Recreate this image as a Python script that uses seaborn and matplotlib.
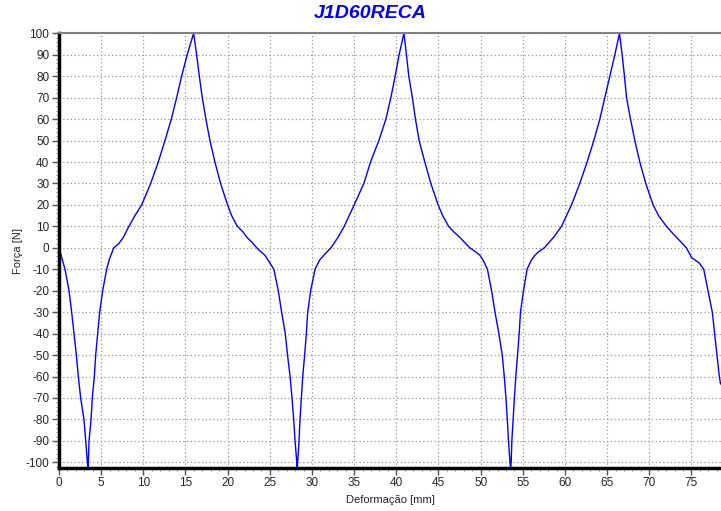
import matplotlib
matplotlib.use("Agg")
import matplotlib.pyplot as plt
from matplotlib.ticker import MultipleLocator
import seaborn as sns
import pandas as pd

# Deformation [mm] and force [N] readings of the cyclic test
deformacao = [
    0.0, 0.71, 1.19, 1.5, 1.78, 2.06, 2.29, 2.57, 2.96, 3.16, 3.36, 3.42, 3.48,
    3.56, 3.8, 3.95, 4.19, 4.35, 4.58, 4.82, 5.18, 5.65, 6.0, 6.5, 7.1, 7.65,
    8.15, 9.0, 9.8, 10.87, 11.77, 12.56, 13.32, 13.95, 14.54, 15.2, 15.96,
    16.32, 16.64, 16.99, 17.42, 17.9, 18.49, 19.16, 19.99, 20.47, 21.15, 21.8,
    22.25, 22.9, 23.45,
    23.95, 24.4, 24.8, 25.48, 26.0, 26.4, 26.83, 27.1, 27.4, 27.63, 27.83,
    27.99, 28.19, 28.25, 28.3, 28.46, 28.58, 28.74, 28.9, 29.13, 29.33, 29.49,
    29.84, 30.36, 30.9, 31.6, 32.25, 33.1, 33.82, 35.0, 36.15, 36.94, 37.93,
    38.76, 39.35, 39.86, 40.33, 40.9, 41.2, 41.48, 41.9, 42.27, 42.7, 43.38,
    44.09, 44.96, 45.5, 46.2, 46.8, 47.5, 48.1, 48.72,
    49.4, 49.9, 50.3, 50.8, 51.3, 51.7, 52.16,
    52.56, 52.8, 53.0, 53.16, 53.3, 53.48, 53.55, 53.62, 53.7, 53.85, 54.0,
    54.17, 54.37, 54.57, 54.72, 55.08, 55.5, 56.0, 56.45, 56.85, 57.55, 58.67,
    59.58, 60.77, 61.75, 62.62, 63.42, 64.13, 64.72, 65.31, 65.91, 66.46,
    66.78, 67.05, 67.3, 67.77, 68.28, 68.87, 69.58, 70.45, 71.1, 72.03, 72.6,
    73.2, 73.8, 74.4,
    75.0, 75.9, 76.45, 76.96, 77.47, 77.75, 78.03, 78.3, 78.45,
]
forca = [
    0, -10, -20, -30, -40, -50, -60, -70, -80, -90, -100, -102.5, -100,
    -90, -80, -70, -60, -50, -40, -30, -20, -10, -5, 0, 2, 5,
    9, 15, 20, 30, 40, 50, 60, 70, 80, 90, 100,
    90, 80, 70, 60, 50, 40, 30, 20, 15, 10, 7.5,
    5, 2.5, 0,
    -1.9, -3.4, -5.8, -10, -20, -30, -40, -50, -60, -70, -80,
    -90, -100, -102.5, -100, -90, -80, -70, -60, -50, -40, -30,
    -20, -10, -5.7, -2.6, 0, 5, 10, 20, 30, 40, 50,
    60, 70, 80, 90, 100, 90, 80, 70, 60, 50, 40,
    30, 20, 15, 10, 7.5, 5, 2.5, 0,
    -1.9, -3.4, -5.8, -10, -20, -30, -40,
    -50, -60, -70, -80, -90, -100, -102.5, -100, -90, -80, -70,
    -60, -50, -40, -30, -20, -10, -5.8, -3.4, -1.9, 0, 5,
    10, 20, 30, 40, 50, 60, 70, 80, 90, 100,
    90, 80, 70, 60, 50, 40, 30, 20, 15, 10, 7.5,
    5, 2.5, 0,
    -4.5, -7, -10, -20, -30, -40, -50, -60, -63.5,
]
x_ticks = list(range(0, 80, 5))
y_ticks = list(range(-100, 101, 10))

df = pd.DataFrame({"Deformação [mm]": deformacao, "Força [N]": forca})

sns.set_style("white")
plt.rcParams["font.family"] = ["Liberation Sans", "DejaVu Sans"]
plt.rcParams["axes.unicode_minus"] = False

W, H = 721, 511
fig = plt.figure(figsize=(W / 100, H / 100), dpi=100)
left, right, top, bottom = 59, 721, 33.3, 467.7
ax = fig.add_axes([left / W, 1 - bottom / H, (right - left) / W, (bottom - top) / H])

sns.lineplot(data=df, x="Deformação [mm]", y="Força [N]", sort=False,
             color="#0000ff", lw=1.0, ax=ax, estimator=None)

ax.set_xlim(0, 78.5)
ax.set_ylim(-102.5, 100)
ax.set_xticks(x_ticks)
ax.set_yticks(y_ticks)
ax.xaxis.set_minor_locator(MultipleLocator(1))
ax.yaxis.set_minor_locator(MultipleLocator(2))
ax.tick_params(axis="both", which="major", direction="out", length=5,
               width=1, color="#555555", labelsize=8.5, pad=2)
ax.tick_params(axis="both", which="minor", direction="out", length=2.5,
               width=0.7, color="#888888")
ax.tick_params(axis="x", which="both", bottom=True)
ax.tick_params(axis="y", which="both", left=True)

ax.grid(True, which="major", linestyle=(0, (1, 2)), color="#999999", lw=0.9)
ax.set_axisbelow(True)

for side in ("left", "bottom"):
    ax.spines[side].set_color("black")
    ax.spines[side].set_linewidth(2.5)
ax.spines["top"].set_color("#808080")
ax.spines["top"].set_linewidth(1.5)
ax.spines["right"].set_visible(False)

ax.set_xlabel("Deformação [mm]", fontsize=8, labelpad=4)
ax.set_ylabel("Força [N]", fontsize=8, labelpad=2)

fig.text(370 / W, 1 - 13 / H, "J1D60RECA", ha="center", va="center",
         fontsize=14, fontweight="bold", fontstyle="italic", color="#0000ff")

fig.savefig("out.png", dpi=100)
